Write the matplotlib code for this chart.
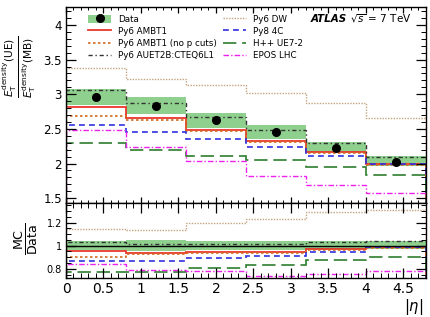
import numpy as np
import matplotlib
matplotlib.use('Agg')
import matplotlib.pyplot as plt
from matplotlib.patches import Patch
from matplotlib.lines import Line2D
from matplotlib.ticker import MultipleLocator

# |eta| bins
edges = [0, 0.8, 1.6, 2.4, 3.2, 4.0, 4.8]
centers = [0.4, 1.2, 2.0, 2.8, 3.6, 4.4]

# data points and uncertainty band
data = [2.96, 2.83, 2.625, 2.46, 2.23, 2.02]
band_hi = [3.076, 2.96, 2.73, 2.55, 2.315, 2.11]
band_lo = [2.85, 2.71, 2.52, 2.36, 2.165, 1.965]

# MC predictions
ambt1 = [2.82, 2.65, 2.48, 2.32, 2.165, 1.99]
ambt1_nop = [2.68, 2.625, 2.47, 2.31, 2.15, 1.98]
auet2b = [3.06, 2.875, 2.67, 2.49, 2.30, 2.10]
dw = [3.38, 3.22, 3.14, 3.02, 2.875, 2.65]
py8_4c = [2.56, 2.45, 2.35, 2.24, 2.11, 2.00]
hpp = [2.29, 2.19, 2.11, 2.05, 1.95, 1.83]
epos = [2.48, 2.24, 2.04, 1.82, 1.69, 1.58]

band_col = '#8fd08f'
styles = [
    ('Py6 AMBT1', ambt1, dict(color='#e8372c', ls='-', lw=1.3)),
    ('Py6 AMBT1 (no p cuts)', ambt1_nop, dict(color='#d2691e', ls=(0, (1.5, 1.5)), lw=1.2)),
    ('Py6 AUET2B:CTEQ6L1', auet2b, dict(color='#333333', ls=(0, (3, 2, 1, 2)), lw=1.0)),
    ('Py6 DW', dw, dict(color='#c4a482', ls=(0, (1, 1)), lw=1.0)),
    ('Py8 4C', py8_4c, dict(color='#3030e0', ls=(0, (3.5, 2.5)), lw=1.2)),
    ('H++ UE7-2', hpp, dict(color='#2e7d2e', ls=(0, (8, 3.5)), lw=1.2)),
    ('EPOS LHC', epos, dict(color='#ee22ee', ls=(0, (4, 1.5, 1, 1.5)), lw=1.0)),
]

fig = plt.figure(figsize=(4.3, 3.17), dpi=100)
ax = fig.add_axes([0.1535, 0.3596, 0.8365, 0.6184])
rx = fig.add_axes([0.1535, 0.123, 0.8365, 0.2366], sharex=ax)

data = np.array(data)
ax.stairs(band_hi, edges, baseline=band_lo, fill=True, color=band_col, lw=0)
rx.stairs(np.array(band_hi) / data, edges, baseline=np.array(band_lo) / data,
          fill=True, color=band_col, lw=0)
rx.axhline(1, color='black', lw=1.0)

handles = []
for name, vals, st in styles:
    ax.stairs(vals, edges, **st)
    rx.stairs(np.array(vals) / data, edges, **st)
    handles.append((name, Line2D([], [], **st)))

ax.plot(centers, data, 'o', color='black', ms=5.5)

hd = (Patch(color=band_col, lw=0), Line2D([], [], marker='o', color='black', ls='none', ms=5.5))
order = [('Data', hd)] + handles
leg = ax.legend([h for _, h in order], [n for n, _ in order], ncol=2, loc='upper left',
                bbox_to_anchor=(0.04, 1.0), frameon=False, fontsize=6.3,
                handlelength=2.6, handleheight=1.0, labelspacing=0.35,
                columnspacing=0.7, handletextpad=0.8)

ax.set_xlim(0, 4.8)
ax.set_ylim(1.43, 4.26)
rx.set_ylim(0.72, 1.37)

for a in (ax, rx):
    a.tick_params(which='both', direction='in', top=True, right=True)
    a.tick_params(which='major', length=7, width=0.9)
    a.tick_params(which='minor', length=3.5, width=0.7)
    a.xaxis.set_major_locator(MultipleLocator(0.5))
    a.xaxis.set_minor_locator(MultipleLocator(0.1))
    for s in a.spines.values():
        s.set_linewidth(1.0)
ax.tick_params(axis='x', which='major', length=4)
ax.tick_params(axis='x', which='minor', length=2)
ax.yaxis.set_major_locator(MultipleLocator(0.5))
ax.yaxis.set_minor_locator(MultipleLocator(0.1))
rx.yaxis.set_major_locator(MultipleLocator(0.2))
rx.yaxis.set_minor_locator(MultipleLocator(0.05))
rx.set_yticks([0.8, 1.0, 1.2])
rx.set_yticklabels(['0.8', '1', '1.2'])
ax.set_yticks([1.5, 2, 2.5, 3, 3.5, 4])
ax.set_yticklabels(['1.5', '2', '2.5', '3', '3.5', '4'])
plt.setp(ax.get_xticklabels(), visible=False)
ax.tick_params(axis='y', labelsize=8.5, pad=3)
rx.tick_params(axis='y', labelsize=7, pad=3)
rx.tick_params(axis='x', labelsize=10, pad=3)
rx.set_xticks([0, 0.5, 1, 1.5, 2, 2.5, 3, 3.5, 4, 4.5])
rx.set_xticklabels(['0', '0.5', '1', '1.5', '2', '2.5', '3', '3.5', '4', '4.5'])

fig.text(0.045, 0.79,
         r'$\frac{E_{\rm T}^{\rm density}\mathrm{(UE)}}{E_{\rm T}^{\rm density}\mathrm{(MB)}}$',
         rotation=90, ha='center', va='center', fontsize=11)
fig.text(0.06, 0.245, r'$\frac{\rm MC}{\rm Data}$', rotation=90, ha='center',
         va='center', fontsize=13)
fig.text(0.985, 0.0, r'$|\eta|$', ha='right', va='bottom', fontsize=10.5)

fig.text(0.723, 0.94, 'ATLAS', fontsize=7.5, fontweight='bold', style='italic', va='center')
fig.text(0.815, 0.94, r'$\sqrt{s}$ = 7 TeV', fontsize=7.5, va='center')

fig.savefig('out.png', dpi=100)
